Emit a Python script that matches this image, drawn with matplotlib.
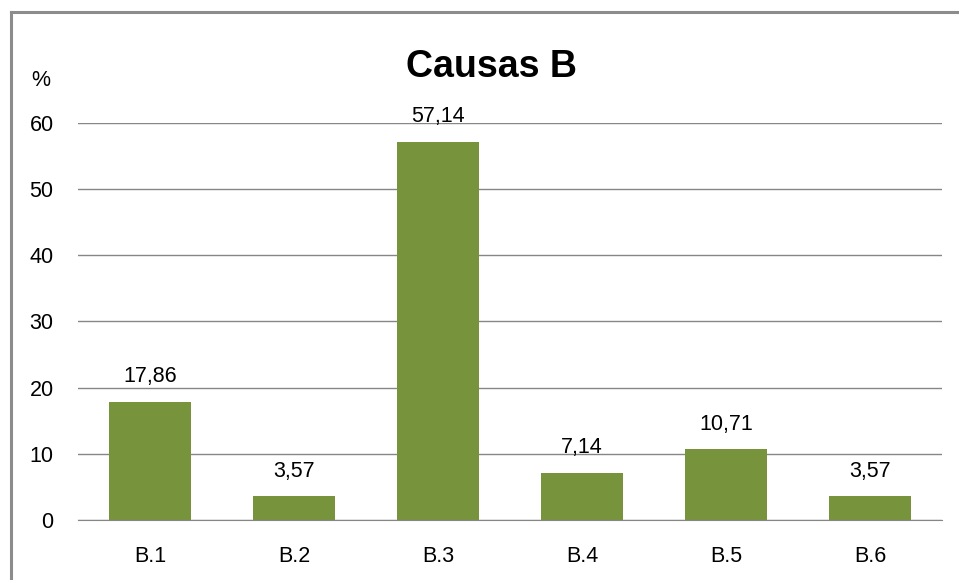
import matplotlib
matplotlib.use('Agg')
import matplotlib.pyplot as plt
from matplotlib.lines import Line2D

categories = ['B.1', 'B.2', 'B.3', 'B.4', 'B.5', 'B.6']
values = [17.86, 3.57, 57.14, 7.14, 10.71, 3.57]
yticks = [0, 10, 20, 30, 40, 50, 60]

plt.rcParams['font.family'] = ['Liberation Sans', 'DejaVu Sans']
FS = 15.5

fig = plt.figure(figsize=(9.59, 5.8), dpi=100)
ax = fig.add_axes([0.0813, 0.1034, 0.9010, 0.6846])

x = range(len(categories))
bars = ax.bar(x, values, width=0.57, color='#77933C', zorder=3)

for xi, v in zip(x, values):
    ax.annotate(f'{v:.2f}'.replace('.', ','), (xi, v),
                xytext=(0, 18), textcoords='offset points',
                ha='center', va='center', fontsize=FS)

ax.set_xlim(-0.5, len(categories) - 0.5)
ax.set_ylim(0, 60)
ax.set_yticks(yticks)
ax.set_xticks(list(x))
ax.set_xticklabels(categories)
ax.tick_params(axis='both', length=0, labelsize=FS)
ax.tick_params(axis='y', pad=17.5)
ax.tick_params(axis='x', pad=19)
ax.grid(axis='y', color='#868686', linewidth=1, zorder=0)

for s in ['top', 'right', 'left']:
    ax.spines[s].set_visible(False)
ax.spines['bottom'].set_color('#868686')
ax.spines['bottom'].set_zorder(4)

fig.text(0.512, 0.885, 'Causas B', ha='center', va='center',
         fontsize=27, fontweight='bold')
fig.text(0.042, 0.862, '%', ha='center', va='center', fontsize=FS)

# outer frame (top and left edges only, as in the source image)
fig.add_artist(Line2D([0.0115, 1.0], [0.9795, 0.9795], color='#8c8c8c',
                      linewidth=2.2, transform=fig.transFigure))
fig.add_artist(Line2D([0.0115, 0.0115], [0.0, 0.9795], color='#8c8c8c',
                      linewidth=2.2, transform=fig.transFigure))

fig.savefig('out.png', dpi=100)
